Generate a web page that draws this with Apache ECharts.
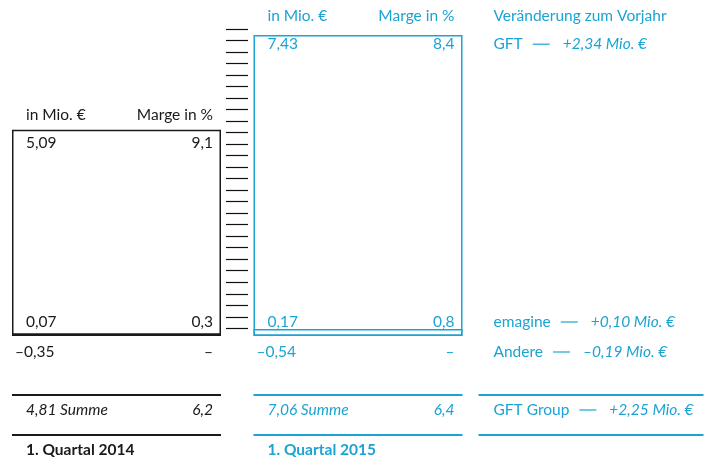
<!DOCTYPE html>
<html>
<head>
<meta charset="utf-8">
<script src="https://cdn.jsdelivr.net/npm/echarts@6/dist/echarts.min.js"></script>
<style>
  html, body { margin: 0; padding: 0; background: #fff; }
  #chart { width: 718px; height: 461px; }
</style>
</head>
<body>
<div id="chart"></div>
<script>
// values in Mio. €, margins in %
const quarters = ['1. Quartal 2014', '1. Quartal 2015']
const gft = [5.09, 7.43]
const emagine = [0.07, 0.17]
const andere = [-0.35, -0.54]
const summe = [4.81, 7.06]
const margeGft = [9.1, 8.4]
const margeEmagine = [0.3, 0.8]
const margeAndere = [null, null]
const margeSumme = [6.2, 6.4]
const changeNames = ['GFT', 'emagine', 'Andere', 'GFT Group']
const changeValues = [2.34, 0.10, -0.19, 2.25]
const rulerSteps = 26

const colors = ['#1a1a1a', '#1ba3d3']
const FONT = 'Lato, "Noto Sans", sans-serif'
const FS = 15.5

function de(v, d) {
  if (v === null) return '–'
  return v.toFixed(d).replace('.', ',').replace('-', '–')
}
function signed(v) {
  return (v >= 0 ? '+' : '–') + Math.abs(v).toFixed(2).replace('.', ',') + ' Mio. €'
}

const chart = echarts.init(document.getElementById('chart'))

// column index on a value x axis: 0 = 2014, 1 = 2015
const option = {
  backgroundColor: '#fff',
  animation: false,
  grid: [
    { left: 0, width: 718, top: 12, height: 445.5 },
    { left: 248, width: 1, top: 29, height: 299.3 }
  ],
  xAxis: [
    { type: 'value', gridIndex: 0, min: -0.4824, max: 2.4907, show: false },
    { type: 'value', gridIndex: 1, show: false }
  ],
  yAxis: [
    { type: 'value', gridIndex: 0, min: -3, max: 8, show: false },
    {
      type: 'value', gridIndex: 1, min: 0, max: rulerSteps, interval: 1,
      axisLine: { show: false },
      axisLabel: { show: false },
      splitLine: { show: false },
      axisTick: { show: true, length: 22, lineStyle: { color: '#111', width: 1.2 } }
    }
  ],
  series: [
    {
      name: 'emagine',
      type: 'bar',
      stack: 'q',
      barWidth: 209,
      itemStyle: { color: 'rgba(0,0,0,0)', borderWidth: 1.5 },
      data: emagine.map((v, i) => ({ value: [i, v], itemStyle: { borderColor: colors[i] } }))
    },
    {
      name: 'GFT',
      type: 'bar',
      stack: 'q',
      barWidth: 209,
      itemStyle: { color: 'rgba(0,0,0,0)', borderWidth: 1.5 },
      data: gft.map((v, i) => ({ value: [i, v], itemStyle: { borderColor: colors[i] } }))
    },
    { type: 'scatter', xAxisIndex: 1, yAxisIndex: 1, data: [] }
  ]
}
chart.setOption(option)

// texts and rules placed from the chart's own scales
const g = []
function txt(text, x, y, color, align, extra) {
  g.push({
    type: 'text', z: 10,
    style: Object.assign({
      text: text, x: x, y: y, fill: color, align: align, verticalAlign: 'middle',
      fontFamily: FONT, fontSize: FS
    }, extra || {})
  })
}
function rule(x1, x2, y, color) {
  g.push({ type: 'line', z: 10, shape: { x1: x1, y1: y, x2: x2, y2: y }, style: { stroke: color, lineWidth: 2 } })
}

const half = 104.5
const base = chart.convertToPixel({ gridIndex: 0 }, [0, 0])[1]
let colEnd = 0
quarters.forEach((q, i) => {
  const c = colors[i]
  const cx = chart.convertToPixel({ gridIndex: 0 }, [i, 0])[0]
  const top = chart.convertToPixel({ gridIndex: 0 }, [i, gft[i] + emagine[i]])[1]
  const l = cx - half, r = cx + half
  txt('in Mio. €', l + 14, top - 12, c, 'left')
  txt('Marge in %', r - 8, top - 12, c, 'right')
  txt(de(gft[i], 2), l + 14, top + 16, c, 'left')
  txt(de(margeGft[i], 1), r - 8, top + 16, c, 'right')
  txt(de(emagine[i], 2), l + 14, base - 14, c, 'left')
  txt(de(margeEmagine[i], 1), r - 8, base - 14, c, 'right')
  txt(de(andere[i], 2), l + 3, base + 16, c, 'left')
  txt(de(margeAndere[i], 1), r - 8, base + 16, c, 'right')
  txt(de(summe[i], 2) + ' Summe', l + 14, base + 74, c, 'left', { fontStyle: 'italic' })
  txt(de(margeSumme[i], 1), r - 8, base + 74, c, 'right', { fontStyle: 'italic' })
  txt(q, l + 14, base + 114, c, 'left', { fontWeight: 'bold' })
  rule(l, r, base + 59, c)
  rule(l, r, base + 99, c)
  colEnd = r
})

// change column
const blue = colors[1]
const cl = colEnd + 16, cr = cl + 225
const topNew = chart.convertToPixel({ gridIndex: 0 }, [1, gft[1] + emagine[1]])[1]
const rowsY = [topNew + 16, base - 14, base + 16, base + 74]
txt('Veränderung zum Vorjahr', cl + 15, topNew - 12, blue, 'left')
changeNames.forEach((n, k) => {
  g.push({
    type: 'text', z: 10,
    style: {
      text: '{n|' + n + '}{s| }{d| }{t| }{v|' + signed(changeValues[k]) + '}',
      x: cl + 15, y: rowsY[k], verticalAlign: 'middle', align: 'left',
      fill: blue, fontFamily: FONT, fontSize: FS,
      rich: {
        n: { fill: blue, fontFamily: FONT, fontSize: FS },
        s: { width: 10, fontSize: FS },
        d: { width: 17, height: 1.2, backgroundColor: blue, fontSize: FS },
        t: { width: 13, fontSize: FS },
        v: { fill: blue, fontFamily: FONT, fontSize: FS, fontStyle: 'italic' }
      }
    }
  })
})
rule(cl, cr, base + 59, blue)
rule(cl, cr, base + 99, blue)

chart.setOption({ graphic: g })
</script>
</body>
</html>
